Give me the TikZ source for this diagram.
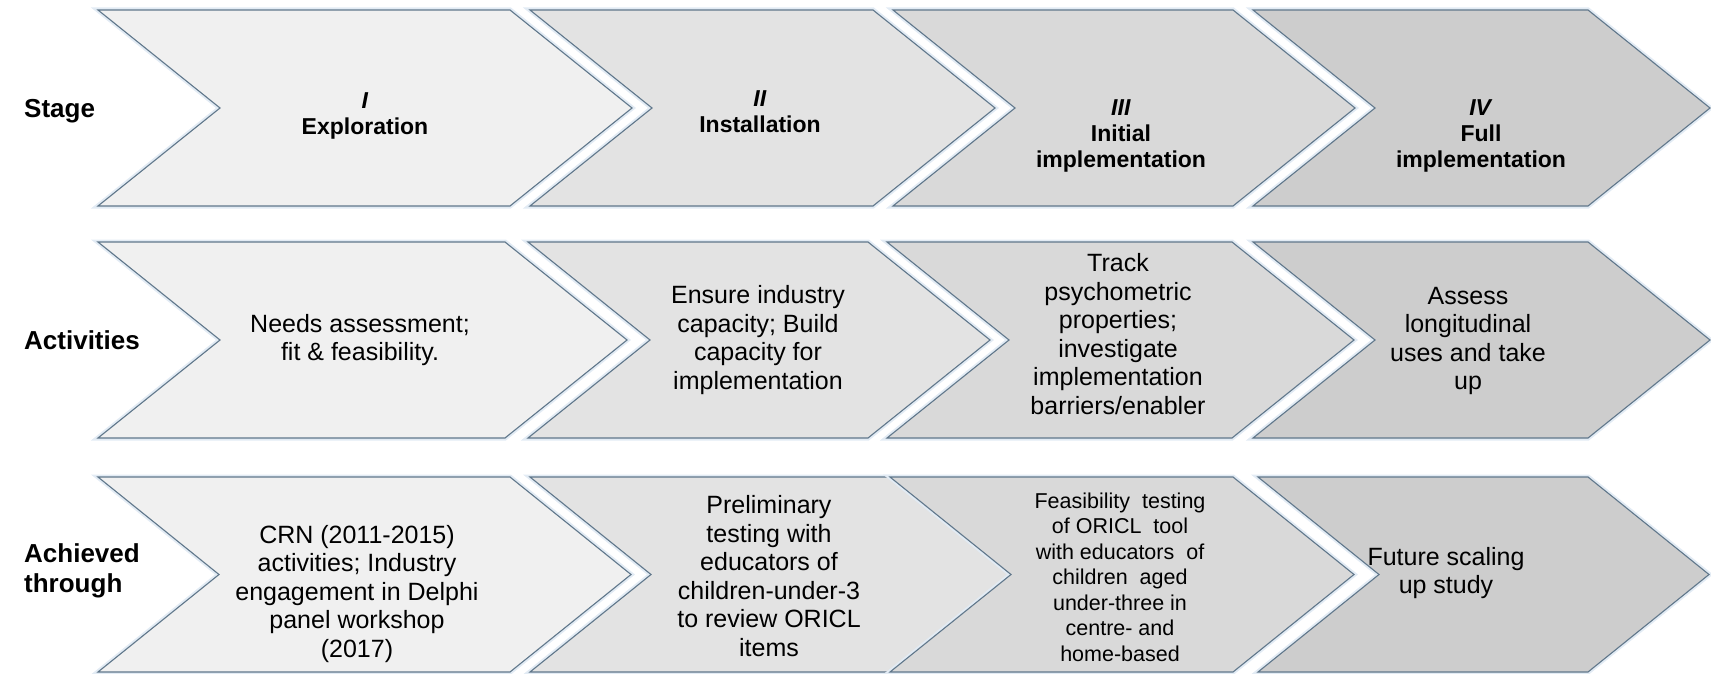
\documentclass[tikz,border=0pt]{standalone}
\usepackage{fontspec}
\setmainfont{Liberation Sans}
\usepackage{tikz}

\definecolor{edgeblue}{HTML}{60778B}
\definecolor{glowblue}{HTML}{E2EBF4}
\definecolor{fillI}{HTML}{F0F0F0}
\definecolor{fillII}{HTML}{E3E3E3}
\definecolor{fillIII}{HTML}{D9D9D9}
\definecolor{fillIV}{HTML}{CDCDCD}

\begin{document}
\begin{tikzpicture}[x=1pt, y=-1pt,
        chev/.style={draw=edgeblue, line width=1.1pt, line join=miter,
            preaction={draw=glowblue, line width=5pt}},
        rowlabel/.style={anchor=west, align=left, inner sep=0pt,
            font=\fontsize{26}{30}\selectfont\bfseries},
        stagetext/.style={anchor=north, align=center, inner sep=0pt,
            font=\fontsize{23}{26}\selectfont\bfseries},
        bodytext/.style={align=center, inner sep=0pt,
            font=\fontsize{25}{28.5}\selectfont},
        smalltext/.style={align=center, inner sep=0pt,
            font=\fontsize{21.5}{25.5}\selectfont}]
    \useasboundingbox (0,0) rectangle (1711,674);

        % stage row
        \draw[chev, fill=fillI] (98,10) -- (510,10) -- (632,108) -- (510,206) -- (98,206) -- (220,108) -- cycle;
        \draw[chev, fill=fillII] (530,10) -- (873,10) -- (995,108) -- (873,206) -- (530,206) -- (652,108) -- cycle;
        \draw[chev, fill=fillIII] (893,10) -- (1233,10) -- (1355,108) -- (1233,206) -- (893,206) -- (1015,108) -- cycle;
        \draw[chev, fill=fillIV] (1253,10) -- (1588,10) -- (1710,108) -- (1588,206) -- (1253,206) -- (1375,108) -- cycle;

        % activities row
        \draw[chev, fill=fillI] (98,242) -- (505,242) -- (627,340) -- (505,438) -- (98,438) -- (220,340) -- cycle;
        \draw[chev, fill=fillII] (528,242) -- (868,242) -- (990,340) -- (868,438) -- (528,438) -- (650,340) -- cycle;
        \draw[chev, fill=fillIII] (887,242) -- (1232,242) -- (1354,340) -- (1232,438) -- (887,438) -- (1009,340) -- cycle;
        \draw[chev, fill=fillIV] (1253,242) -- (1588,242) -- (1710,340) -- (1588,438) -- (1253,438) -- (1375,340) -- cycle;

        % achieved-through row
        \draw[chev, fill=fillI] (98,477) -- (510,477) -- (631,574.5) -- (510,672) -- (98,672) -- (219,574.5) -- cycle;
        \draw[chev, fill=fillII] (530,477) -- (890,477) -- (1011,574.5) -- (890,672) -- (530,672) -- (651,574.5) -- cycle;
        \draw[chev, fill=fillIII] (890,477) -- (1233,477) -- (1354,574.5) -- (1233,672) -- (890,672) -- (1011,574.5) -- cycle;
        \draw[chev, fill=fillIV] (1258,477) -- (1588,477) -- (1709,574.5) -- (1588,672) -- (1258,672) -- (1379,574.5) -- cycle;

        \node[rowlabel] (lStage) at (24,111) {Stage};
        \node[rowlabel] (lAct) at (24,340) {Activities};
        \node[rowlabel] (lAch) at (24,571) {Achieved\\through};

        \node[stagetext] (stI) at (365,92) {\textit{I}\\Exploration};
        \node[stagetext] (stII) at (760,90) {\textit{II}\\Installation};
        \node[stagetext] (stIII) at (1121,99) {\textit{III}\\Initial\\implementation};
        \node[stagetext] (stIV) at (1481,99) {\textit{IV}\\Full\\implementation};

        \node[bodytext] (actI) at (360,340) {Needs assessment;\\fit \& feasibility.};
        \node[bodytext] (actII) at (758,340) {Ensure industry\\capacity; Build\\capacity for\\implementation};
        \node[bodytext] (actIII) at (1118,334) {Track\\psychometric\\properties;\\investigate\\implementation\\barriers/enabler};
        \node[bodytext] (actIV) at (1468,341) {Assess\\longitudinal\\uses and take\\up};

        \node[bodytext] (achI) at (357,594) {CRN (2011-2015)\\activities; Industry\\engagement in Delphi\\panel workshop\\(2017)};
        \node[bodytext] (achII) at (769,576) {Preliminary\\testing with\\educators of\\children-under-3\\to review ORICL\\items};
        \node[smalltext] (achIII) at (1120,577) {Feasibility\ \ testing\\of ORICL\ \ tool\\with educators\ \ of\\children\ \ aged\\under-three in\\centre- and\\home-based};
        \node[bodytext] (achIV) at (1446,573) {Future scaling\\up study};
    \end{tikzpicture}
\end{document}
